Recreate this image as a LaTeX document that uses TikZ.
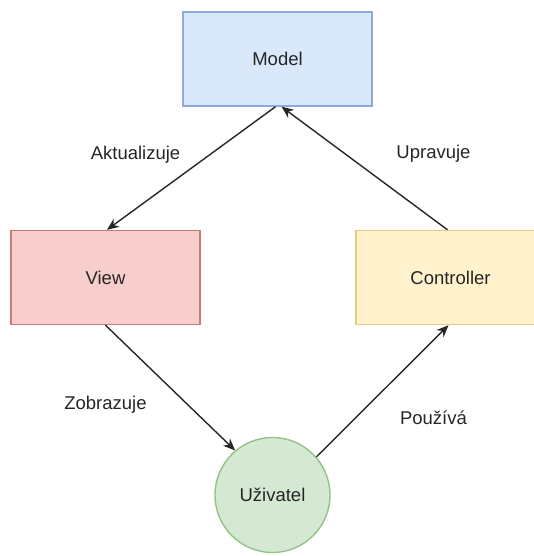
\documentclass[tikz,border=0pt]{standalone}
\usepackage{fontspec}
\setmainfont{Liberation Sans}
\usetikzlibrary{arrows.meta}
\definecolor{bluefill}{HTML}{DAE8FC}
\definecolor{bluedraw}{HTML}{8FAADC}
\definecolor{redfill}{HTML}{F8CECC}
\definecolor{reddraw}{HTML}{CC7A76}
\definecolor{yellowfill}{HTML}{FFF2CC}
\definecolor{yellowdraw}{HTML}{E6CC80}
\definecolor{greenfill}{HTML}{D5E8D4}
\definecolor{greendraw}{HTML}{97C285}
\begin{document}
\begin{tikzpicture}[x=1pt,y=-1pt,
  font=\fontsize{18.5}{22}\selectfont, text=black!85,
  box/.style={rectangle,draw,line width=1.4pt,minimum width=189pt,minimum height=94pt,inner sep=0pt},
  link/.style={line width=1.4pt,black!85,-{Stealth[length=12pt,width=10pt]}}]
\useasboundingbox (0,0) rectangle (534,556);
\clip (0,0) rectangle (534,556);
\node [box,fill=bluefill,draw=bluedraw] (model) at (277.5,59) {Model};
\node [box,fill=redfill,draw=reddraw] (view) at (105.5,277.5) {View};
\node [box,fill=yellowfill,draw=yellowdraw] (ctrl) at (450.5,277.5) {Controller};
\node [circle,draw=greendraw,fill=greenfill,line width=1.4pt,minimum size=115pt,inner sep=0pt] (user) at (272.5,495) {Uživatel};
\node (akt) at (135.5,155) {Aktualizuje};
\node (upr) at (433.5,154) {Upravuje};
\node (zob) at (105.5,405) {Zobrazuje};
\node (pou) at (433.5,418) {Používá};
\draw [link] ([xshift=-2pt]model.south) -- ([xshift=1.5pt]view.north);
\draw [link] (view.south) -- (user.130);
\draw [link] (user.41) -- ([xshift=-2pt]ctrl.south);
\draw [link] ([xshift=-3pt]ctrl.north) -- ([xshift=4pt]model.south);
\end{tikzpicture}
\end{document}
